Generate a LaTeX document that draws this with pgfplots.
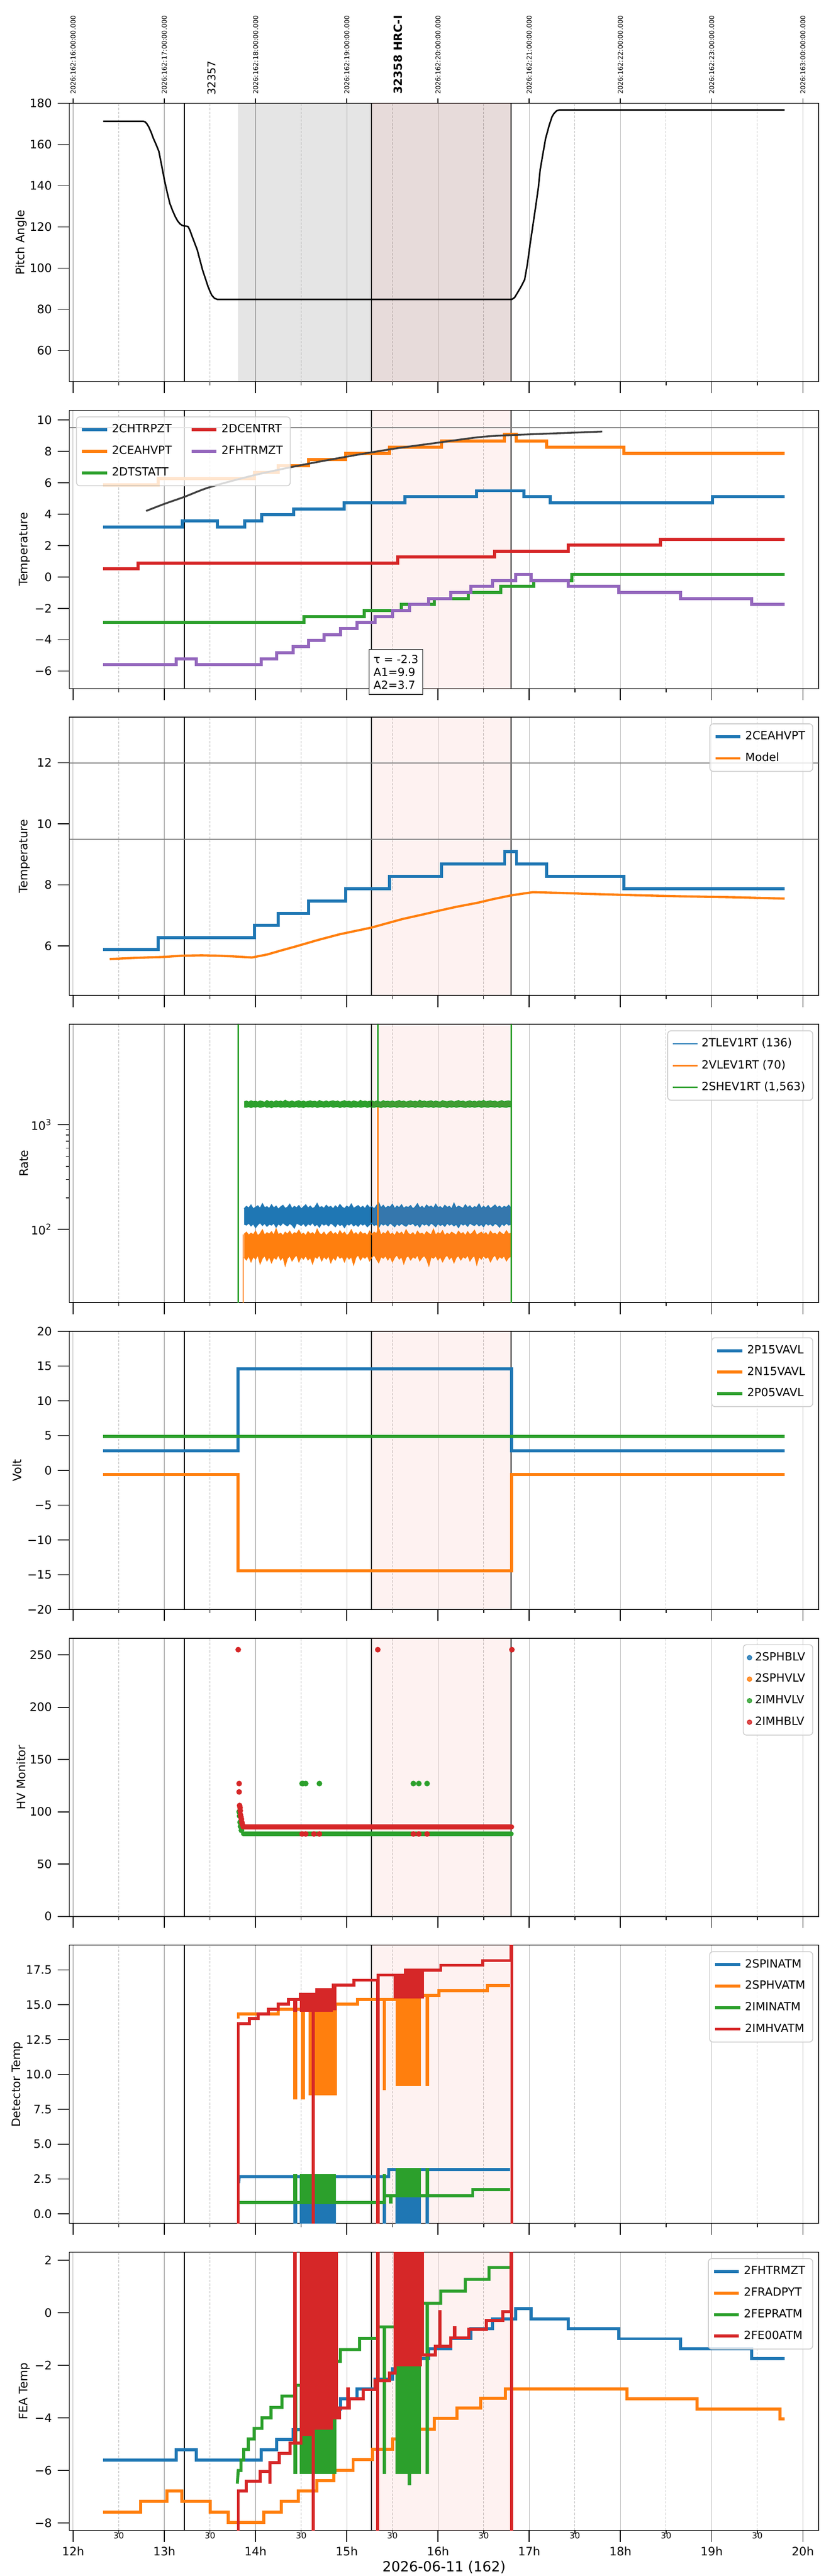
\documentclass[border=0pt]{standalone}
\usepackage{fontspec}
\setmainfont{DejaVu Sans}
\usepackage{pgfplots}
\usepackage{pgfplotstable}
\pgfplotsset{compat=1.18}
\usepgfplotslibrary{fillbetween}

\definecolor{C0}{HTML}{1F77B4}
\definecolor{C1}{HTML}{FF7F0E}
\definecolor{C2}{HTML}{2CA02C}
\definecolor{C3}{HTML}{D62728}
\definecolor{C4}{HTML}{9467BD}
\definecolor{salmon}{HTML}{FA8072}

\newcommand{\myfs}[2]{\fontsize{#1}{#2}\selectfont}

\pgfplotstableread{
x bu bl ou ol gu gl
13.875 158 112 90 54 1660 1480
13.900 166 110 94 51 1690 1470
13.925 160 115 88 56 1650 1495
13.950 171 108 92 49 1700 1460
13.975 157 113 89 55 1665 1490
14.000 163 104 96 52 1680 1475
14.025 168 111 87 57 1655 1500
14.050 159 116 91 47 1695 1465
14.075 176 109 99 53 1670 1485
14.100 161 114 88 56 1645 1505
14.125 165 107 93 50 1710 1470
14.150 158 112 90 55 1660 1490
14.175 172 110 95 48 1685 1455
14.200 160 115 88 54 1650 1495
14.225 167 105 101 52 1700 1480
14.250 156 113 89 57 1665 1500
14.275 164 109 92 51 1690 1470
14.300 170 116 87 55 1655 1485
14.325 159 111 94 45 1720 1475
14.350 163 108 90 53 1670 1495
14.375 174 114 96 56 1660 1465
14.400 158 110 88 50 1695 1490
14.425 166 103 93 54 1650 1480
14.450 161 115 91 57 1680 1500
14.475 169 112 98 49 1705 1470
14.500 157 109 89 55 1660 1485
14.525 164 114 92 52 1690 1460
14.550 172 107 87 56 1655 1495
14.575 160 113 95 51 1675 1480
14.600 167 110 90 54 1700 1490
14.625 158 116 93 47 1665 1475
14.650 163 108 88 55 1685 1500
14.675 177 112 100 53 1650 1465
14.700 161 105 91 57 1710 1485
14.725 165 114 89 50 1670 1495
14.750 159 110 94 55 1660 1470
14.775 170 113 87 52 1695 1490
14.800 162 108 92 56 1655 1480
14.825 166 115 96 48 1680 1505
14.850 157 111 89 54 1700 1470
14.875 168 106 93 51 1665 1485
14.900 160 114 88 57 1690 1495
14.925 173 109 97 53 1650 1460
14.950 163 112 90 55 1675 1490
14.975 158 104 94 49 1705 1475
15.000 167 113 87 56 1660 1500
15.025 161 110 91 52 1685 1480
15.050 175 115 99 55 1655 1465
15.075 159 108 89 46 1695 1490
15.100 164 112 93 54 1670 1475
15.125 169 107 88 57 1650 1495
15.150 160 114 95 51 1715 1470
15.175 166 110 90 55 1665 1485
15.200 158 113 92 53 1690 1500
15.225 171 106 87 56 1660 1465
15.250 162 111 96 50 1680 1490
15.275 165 115 89 54 1700 1480
15.300 157 109 94 57 1655 1470
15.325 168 112 91 52 1690 1495
15.350 180 104 102 48 1670 1485
15.375 161 114 88 55 1650 1460
15.400 170 110 93 53 1705 1490
15.425 159 113 90 56 1665 1475
15.450 166 108 97 51 1685 1500
15.475 163 115 89 55 1660 1470
15.500 174 111 92 49 1695 1485
15.525 158 106 87 54 1655 1495
15.550 167 113 95 57 1680 1465
15.575 161 109 90 52 1710 1490
15.600 172 114 94 55 1665 1480
15.625 159 110 88 47 1690 1475
15.650 165 107 99 54 1650 1500
15.675 162 113 91 56 1675 1470
15.700 169 111 89 51 1700 1485
15.725 157 115 93 55 1660 1495
15.750 164 108 87 53 1685 1465
15.775 176 112 96 57 1655 1490
15.800 160 105 90 50 1720 1480
15.825 166 114 92 54 1670 1470
15.850 158 110 88 56 1690 1500
15.875 171 113 95 52 1660 1485
15.900 163 108 91 45 1680 1475
15.925 167 115 89 55 1700 1495
15.950 159 111 100 53 1655 1465
15.975 174 106 88 56 1690 1490
16.000 161 114 93 51 1665 1480
16.025 165 109 90 55 1650 1470
16.050 158 112 97 49 1705 1500
16.075 170 107 87 54 1675 1485
16.100 162 115 92 57 1660 1460
16.125 166 110 89 52 1685 1490
16.150 157 113 94 55 1695 1475
16.175 178 108 91 48 1655 1495
16.200 160 112 88 54 1680 1470
16.225 167 104 96 56 1710 1485
16.250 163 114 90 51 1665 1500
16.275 159 110 93 55 1690 1480
16.300 172 113 87 53 1650 1465
16.325 161 107 95 57 1675 1490
16.350 168 115 89 50 1700 1475
16.375 158 111 92 54 1660 1495
16.400 165 109 98 56 1685 1470
16.425 162 114 88 46 1655 1485
16.450 175 108 91 55 1695 1500
16.475 159 112 94 52 1670 1465
16.500 166 106 89 56 1715 1490
16.525 160 115 93 53 1660 1480
16.550 169 110 87 55 1680 1470
16.575 158 113 96 49 1700 1495
16.600 164 108 90 54 1665 1485
16.625 171 114 92 57 1690 1475
16.650 161 111 88 51 1650 1500
16.675 167 105 95 55 1675 1465
16.700 159 113 91 53 1705 1490
16.725 166 109 89 56 1660 1480
16.750 162 115 97 50 1685 1470
16.775 170 110 90 54 1695 1495
16.800 160 112 92 55 1670 1485
}\ratetab

\newcommand{\vl}[2]{%
 \addplot[black, line width=0.45pt, forget plot] coordinates {(13.22,#1) (13.22,#2)};
 \addplot[black, line width=0.45pt, forget plot] coordinates {(15.27,#1) (15.27,#2)};
 \addplot[black, line width=0.45pt, forget plot] coordinates {(16.80,#1) (16.80,#2)};}
\newcommand{\pk}[2]{%
 \addplot[draw=none, fill=salmon, fill opacity=0.1, forget plot] coordinates {(15.27,#1) (16.80,#1) (16.80,#2) (15.27,#2)} -- cycle;}

\pgfplotsset{
 base/.style={
  scale only axis, width=450.9pt, height=167.4pt,
  xmin=11.959, xmax=20.174,
  clip mode=individual,
  axis line style={line width=0.5pt},
  tick style={line width=0.5pt, black},
  tick align=outside, tick pos=left,
  major tick length=7pt, minor tick length=2.2pt,
  xtick={12,13,...,20}, xticklabels={},
  xmajorgrids,
  major x grid style={black!28, line width=0.35pt},
  extra x ticks={12.5,13.5,...,19.5}, extra x tick labels={},
  extra x tick style={grid=major, major grid style={black!35, line width=0.35pt, dash pattern=on 1.4pt off 0.9pt}, major tick length=2.2pt},
  ticklabel style={font=\myfs{7}{8}},
  /pgf/number format/assume math mode=true,
  yticklabel={\pgfmathsetmacro\tk{\tick}\ifdim\tk pt<-0.0001pt −\pgfmathsetmacro\tk{-\tk}\fi\pgfmathprintnumber{\tk}},
  ylabel style={font=\myfs{7}{8}, anchor=center},
  legend style={font=\myfs{6.8}{8}, draw=black!20, line width=0.5pt, rounded corners=2pt, fill=white, fill opacity=0.8, text opacity=1, draw opacity=1, at={(0.9925,0.978)}, anchor=north east, inner xsep=2.5pt, inner ysep=2.5pt, row sep=2.4pt, cells={anchor=west}},
  legend cell align=left,
  legend image code/.code={\draw[##1] (0pt,0pt) -- (15pt,0pt);},
 },
}

\begin{document}
\begin{tikzpicture}

%% ---------------- Panel 1: Pitch ----------------
\begin{axis}[base, at={(0pt,0pt)}, anchor=north west,
  ymin=45, ymax=180, ytick={60,80,...,180},
  ylabel={Pitch Angle}, ylabel style={at={(axis description cs:-0.0643,0.5)}}]
\addplot[draw=none, fill=black, fill opacity=0.1, forget plot] coordinates {(13.81,0) (16.80,0) (16.80,300) (13.81,300)} -- cycle;
\pk{0}{300}
\vl{0}{300}
\addplot[black, line width=0.9pt, forget plot] coordinates {(12.33,171.3)(12.77,171.3)(12.79,171.0)(12.81,170.0)(12.83,168.5)(12.855,166)(12.88,163)(12.91,160)(12.94,156.7)(12.97,150)(13.0,143)(13.03,137)(13.06,131.5)(13.09,128)(13.12,125)(13.145,123)(13.17,121.6)(13.195,120.8)(13.22,120.5)(13.245,120.4)(13.26,120.2)(13.28,118.5)(13.30,116)(13.33,112.5)(13.36,109)(13.39,104)(13.42,99)(13.45,95)(13.48,91)(13.50,88.8)(13.52,86.9)(13.55,85.4)(13.58,84.9)(16.81,84.9)(16.84,85.8)(16.87,88)(16.91,91)(16.95,94.5)(16.98,102)(17.01,111.7)(17.04,120.7)(17.07,129.7)(17.10,139)(17.12,147.7)(17.15,155.5)(17.18,163)(17.22,169.5)(17.25,173.5)(17.27,175)(17.30,176.4)(17.33,176.8)(19.80,176.8)};
\pgfplotsinvokeforeach{12,13,14,15,16,17,18,19,20}{\draw[line width=0.5pt] (axis cs:#1,180) -- ([yshift=3pt]axis cs:#1,180);}
\node[rotate=90, anchor=west, inner sep=0pt, font=\myfs{4}{4}] at ([yshift=5.3pt]axis cs:12,180) {2026:162:16:00:00.000};
\node[rotate=90, anchor=west, inner sep=0pt, font=\myfs{4}{4}] at ([yshift=5.3pt]axis cs:13,180) {2026:162:17:00:00.000};
\node[rotate=90, anchor=west, inner sep=0pt, font=\myfs{4}{4}] at ([yshift=5.3pt]axis cs:14,180) {2026:162:18:00:00.000};
\node[rotate=90, anchor=west, inner sep=0pt, font=\myfs{4}{4}] at ([yshift=5.3pt]axis cs:15,180) {2026:162:19:00:00.000};
\node[rotate=90, anchor=west, inner sep=0pt, font=\myfs{4}{4}] at ([yshift=5.3pt]axis cs:16,180) {2026:162:20:00:00.000};
\node[rotate=90, anchor=west, inner sep=0pt, font=\myfs{4}{4}] at ([yshift=5.3pt]axis cs:17,180) {2026:162:21:00:00.000};
\node[rotate=90, anchor=west, inner sep=0pt, font=\myfs{4}{4}] at ([yshift=5.3pt]axis cs:18,180) {2026:162:22:00:00.000};
\node[rotate=90, anchor=west, inner sep=0pt, font=\myfs{4}{4}] at ([yshift=5.3pt]axis cs:19,180) {2026:162:23:00:00.000};
\node[rotate=90, anchor=west, inner sep=0pt, font=\myfs{4}{4}] at ([yshift=5.3pt]axis cs:20,180) {2026:163:00:00:00.000};
\node[rotate=90, anchor=west, inner sep=0pt, font=\myfs{6.5}{7}] at ([yshift=4.8pt]axis cs:13.52,180) {32357};
\node[rotate=90, anchor=west, inner sep=0pt, font=\bfseries\myfs{6.8}{7}] at ([yshift=5.3pt]axis cs:15.56,180) {32358 HRC-I};
\end{axis}

%% ---------------- Panel 2: Temperatures ----------------
\begin{axis}[base, at={(0pt,-184.7pt)}, anchor=north west,
  ymin=-7.11, ymax=10.61, ytick={-6,-4,...,10},
  ylabel={Temperature}, ylabel style={at={(axis description cs:-0.0596,0.5)}},
  legend columns=2,
  legend style={at={(0.0089,0.978)}, anchor=north west, /tikz/every even column/.append style={column sep=9pt}}]
\pk{-20}{20}
\vl{-20}{20}
\addplot[black!50, line width=0.6pt, forget plot] coordinates {(11,9.5) (21,9.5)};
\addplot[const plot, C0, line width=1.85pt, forget plot] coordinates {(12.33,3.18) (13.20,3.56) (13.58,3.18) (13.88,3.56) (14.07,3.95) (14.42,4.33) (14.97,4.72) (15.64,5.10) (16.42,5.49) (16.94,5.10) (17.23,4.72) (19.01,5.10) (19.80,5.10)};
\addplot[const plot, C1, line width=1.85pt, forget plot] coordinates {(12.33,5.88) (12.93,6.27) (13.99,6.67) (14.25,7.07) (14.58,7.47) (14.99,7.87) (15.47,8.27) (16.04,8.67) (16.73,9.07) (16.86,8.67) (17.19,8.27) (18.04,7.87) (19.80,7.87)};
\addplot[const plot, C2, line width=1.85pt, forget plot] coordinates {(12.33,-2.90) (14.53,-2.52) (15.19,-2.14) (15.60,-1.75) (15.96,-1.37) (16.33,-0.99) (16.69,-0.61) (17.05,-0.23) (17.47,0.15) (19.80,0.15)};
\addplot[const plot, C3, line width=1.85pt, forget plot] coordinates {(12.33,0.51) (12.71,0.89) (15.56,1.26) (16.62,1.64) (17.43,2.02) (18.44,2.40) (19.80,2.40)};
\addplot[const plot, C4, line width=1.85pt, forget plot] coordinates {(12.33,-5.60) (13.13,-5.21) (13.35,-5.60) (14.06,-5.21) (14.23,-4.82) (14.41,-4.44) (14.58,-4.05) (14.75,-3.67) (14.93,-3.28) (15.11,-2.90) (15.31,-2.52) (15.50,-2.13) (15.69,-1.75) (15.90,-1.37) (16.14,-0.99) (16.36,-0.61) (16.60,-0.23) (16.85,0.15) (17.02,-0.23) (17.43,-0.61) (17.98,-0.99) (18.66,-1.37) (19.44,-1.75) (19.80,-1.75)};
\addplot[black!75, line width=1.1pt, smooth, forget plot] coordinates {(12.80,4.2) (13.0,4.65) (13.22,5.1) (13.5,5.72) (14.0,6.5) (14.5,7.12) (15.0,7.66) (15.5,8.15) (16.0,8.55) (16.5,8.93) (17.0,9.08) (17.5,9.19) (17.80,9.26)};
\addlegendimage{C0, line width=1.85pt}\addlegendentry{2CHTRPZT}
\addlegendimage{C3, line width=1.85pt}\addlegendentry{2DCENTRT}
\addlegendimage{C1, line width=1.85pt}\addlegendentry{2CEAHVPT}
\addlegendimage{C4, line width=1.85pt}\addlegendentry{2FHTRMZT}
\addlegendimage{C2, line width=1.85pt}\addlegendentry{2DTSTATT}
\node[draw=black, line width=0.4pt, fill=white, align=left, font=\myfs{6.7}{7.8}, inner xsep=2.6pt, inner ysep=3.2pt] at (axis cs:15.54,-6.06) {τ = -2.3\\A1=9.9\\A2=3.7};
\end{axis}

%% ---------------- Panel 3: Model ----------------
\begin{axis}[base, at={(0pt,-369.4pt)}, anchor=north west,
  ymin=4.375, ymax=13.49, ytick={6,8,10,12},
  ylabel={Temperature}, ylabel style={at={(axis description cs:-0.0596,0.5)}}]
\pk{0}{20}
\vl{0}{20}
\addplot[black!50, line width=0.6pt, forget plot] coordinates {(11,12) (21,12)};
\addplot[black!50, line width=0.6pt, forget plot] coordinates {(11,9.5) (21,9.5)};
\addplot[const plot, C0, line width=1.8pt, forget plot] coordinates {(12.33,5.88) (12.93,6.275) (13.99,6.675) (14.25,7.07) (14.58,7.47) (14.99,7.87) (15.47,8.275) (16.04,8.68) (16.73,9.09) (16.86,8.68) (17.19,8.275) (18.04,7.87) (19.80,7.87)};
\addplot[C1, line width=1.35pt, forget plot] coordinates {(12.40,5.57) (12.7,5.61) (13.0,5.64) (13.2,5.68) (13.41,5.69) (13.58,5.68) (13.8,5.65) (13.96,5.62) (14.13,5.72) (14.28,5.85) (14.45,5.99) (14.68,6.19) (14.92,6.38) (15.27,6.60) (15.61,6.88) (15.85,7.04) (16.02,7.16) (16.2,7.28) (16.43,7.41) (16.6,7.53) (16.81,7.66) (17.04,7.76) (17.3,7.74) (17.59,7.71) (18.17,7.66) (18.75,7.62) (19.3,7.59) (19.80,7.55)};
\addlegendimage{C0, line width=1.8pt}\addlegendentry{2CEAHVPT}
\addlegendimage{C1, line width=1.35pt}\addlegendentry{Model}
\end{axis}

%% ---------------- Panel 4: Rate ----------------
\begin{axis}[base, at={(0pt,-554.1pt)}, anchor=north west,
  ymode=log, ymin=20, ymax=9160, ytick={100,1000},
  yticklabels={10\textsuperscript{2},10\textsuperscript{3}},
  ylabel={Rate}, ylabel style={at={(axis description cs:-0.0607,0.5)}}]
\pk{1}{100000}
\vl{1}{100000}
\addplot[C0, line width=0.55pt, name path=rbu, forget plot] table[x=x,y=bu]{\ratetab};
\addplot[C0, line width=0.55pt, name path=rbl, forget plot] table[x=x,y=bl]{\ratetab};
\addplot[C0, forget plot] fill between[of=rbu and rbl];
\addplot[C1, line width=0.55pt, name path=rou, forget plot] table[x=x,y=ou]{\ratetab};
\addplot[C1, line width=0.55pt, name path=rol, forget plot] table[x=x,y=ol]{\ratetab};
\addplot[C1, forget plot] fill between[of=rou and rol];
\addplot[C1, line width=0.75pt, forget plot] coordinates {(13.81,1) (13.81,1500)};
\addplot[C1, line width=0.75pt, forget plot] coordinates {(13.865,1) (13.865,90)};
\addplot[C1, line width=0.75pt, forget plot] coordinates {(15.34,95) (15.34,1500)};
\addplot[C2, line width=0.55pt, name path=rgu, forget plot] table[x=x,y=gu]{\ratetab};
\addplot[C2, line width=0.55pt, name path=rgl, forget plot] table[x=x,y=gl]{\ratetab};
\addplot[C2, forget plot] fill between[of=rgu and rgl];
\addplot[C2, line width=0.85pt, forget plot] coordinates {(13.81,1) (13.81,100000)};
\addplot[C2, line width=0.85pt, forget plot] coordinates {(15.34,1600) (15.34,100000)};
\addplot[C2, line width=0.85pt, forget plot] coordinates {(16.805,1) (16.805,100000)};
\end{axis}
%% legend of panel 4, in an overlay axis of the same size
\begin{axis}[base, at={(0pt,-554.1pt)}, anchor=north west, hide axis, ymin=0, ymax=1]
\addlegendimage{C0, line width=0.9pt}\addlegendentry{2TLEV1RT (136)}
\addlegendimage{C1, line width=0.9pt}\addlegendentry{2VLEV1RT (70)}
\addlegendimage{C2, line width=0.9pt}\addlegendentry{2SHEV1RT (1,563)}
\end{axis}

%% ---------------- Panel 5: Volt ----------------
\begin{axis}[base, at={(0pt,-738.8pt)}, anchor=north west,
  ymin=-20, ymax=20, ytick={-20,-15,...,20},
  ylabel={Volt}, ylabel style={at={(axis description cs:-0.0695,0.5)}}]
\pk{-30}{30}
\vl{-30}{30}
\addplot[C0, line width=1.85pt, forget plot] coordinates {(12.33,2.83) (13.805,2.83) (13.805,14.57) (16.805,14.57) (16.805,2.83) (19.80,2.83)};
\addplot[C1, line width=1.85pt, forget plot] coordinates {(12.33,-0.6) (13.805,-0.6) (13.805,-14.46) (16.805,-14.46) (16.805,-0.6) (19.80,-0.6)};
\addplot[C2, line width=1.85pt, forget plot] coordinates {(12.33,4.86) (19.80,4.86)};
\addlegendimage{C0, line width=1.85pt}\addlegendentry{2P15VAVL}
\addlegendimage{C1, line width=1.85pt}\addlegendentry{2N15VAVL}
\addlegendimage{C2, line width=1.85pt}\addlegendentry{2P05VAVL}
\end{axis}

%% ---------------- Panel 6: HV Monitor ----------------
\begin{axis}[base, at={(0pt,-923.5pt)}, anchor=north west,
  ymin=0, ymax=266, ytick={0,50,...,250},
  ylabel={HV Monitor}, ylabel style={at={(axis description cs:-0.0643,0.5)}},
  legend image code/.code={\draw[#1] plot coordinates {(7pt,0pt)};}]
\pk{-10}{300}
\vl{-10}{300}
\addplot[C2, line width=2.7pt, line cap=round, forget plot] coordinates {(13.865,78.9) (16.805,78.9)};
\addplot[only marks, mark=*, mark size=1.5pt, C2, forget plot] coordinates {(13.82,100)(13.825,96)(13.83,90)(13.835,86)(13.845,82.3)(14.51,127)(14.52,127)(14.55,127)(14.70,127)(15.73,127)(15.79,127)(15.88,127)};
\addplot[C3, line width=3.3pt, line cap=round, forget plot] coordinates {(13.865,85.6) (16.805,85.6)};
\addplot[only marks, mark=*, mark size=1.5pt, C3, forget plot] coordinates {(13.81,255)(15.34,255)(16.81,255)(13.82,127)(13.82,119)(13.825,106)(13.83,104)(13.832,101)(13.835,97)(13.84,95)(13.845,93)(13.85,90)(13.855,88)(14.51,78.8)(14.55,78.8)(14.64,78.8)(14.70,78.8)(15.73,78.8)(15.79,78.8)(15.88,78.8)};
\addlegendimage{only marks, mark=*, mark size=1.3pt, C0}\addlegendentry{2SPHBLV}
\addlegendimage{only marks, mark=*, mark size=1.3pt, C1}\addlegendentry{2SPHVLV}
\addlegendimage{only marks, mark=*, mark size=1.3pt, C2}\addlegendentry{2IMHVLV}
\addlegendimage{only marks, mark=*, mark size=1.3pt, C3}\addlegendentry{2IMHBLV}
\end{axis}

%% ---------------- Panel 7: Detector Temp ----------------
\begin{axis}[base, at={(0pt,-1108.2pt)}, anchor=north west,
  ymin=-0.685, ymax=19.28, ytick={0,2.5,...,17.5},
  yticklabel style={/pgf/number format/.cd, fixed, fixed zerofill, precision=1},
  ylabel={Detector Temp}, ylabel style={at={(axis description cs:-0.0695,0.5)}}]
\pk{-10}{30}
\vl{-10}{30}
\addplot[C0, line width=1.8pt, forget plot] coordinates {(13.815,2.2)(13.82,2.67)(14.43,2.67)(14.43,-3)(14.44,-3)(14.44,2.67)(14.50,2.67)
(14.50,-3)(14.52,-3)(14.52,2.67)(14.54,2.67)(14.54,-3)(14.56,-3)(14.56,2.67)(14.58,2.67)(14.58,-3)(14.60,-3)(14.60,2.67)(14.62,2.67)(14.62,-3)(14.64,-3)(14.64,2.67)(14.66,2.67)(14.66,-3)(14.68,-3)(14.68,2.67)(14.70,2.67)(14.70,-3)(14.72,-3)(14.72,2.67)(14.74,2.67)(14.74,-3)(14.76,-3)(14.76,2.67)(14.78,2.67)(14.78,-3)(14.80,-3)(14.80,2.67)(14.82,2.67)(14.82,-3)(14.84,-3)(14.84,2.67)(14.86,2.67)(14.86,-3)(14.865,-3)(14.865,2.67)
(15.41,2.67)(15.41,-3)(15.415,-3)(15.415,2.67)(15.46,2.67)(15.46,3.18)(15.55,3.18)
(15.55,-3)(15.57,-3)(15.57,3.18)(15.59,3.18)(15.59,-3)(15.61,-3)(15.61,3.18)(15.63,3.18)(15.63,-3)(15.65,-3)(15.65,3.18)(15.67,3.18)(15.67,-3)(15.69,-3)(15.69,3.18)(15.71,3.18)(15.71,-3)(15.73,-3)(15.73,3.18)(15.75,3.18)(15.75,-3)(15.76,-3)(15.76,3.18)
(15.79,3.18)(15.79,-3)(15.795,-3)(15.795,3.18)(15.88,3.18)(15.88,-3)(15.885,-3)(15.885,3.18)(16.79,3.18)};
\addplot[C1, line width=1.8pt, forget plot] coordinates {(13.81,14.0)(13.81,14.34)(14.25,14.34)(14.25,14.68)(14.43,14.68)(14.43,8.3)(14.44,8.3)(14.44,14.68)(14.515,14.68)(14.515,8.3)(14.525,8.3)(14.525,14.68)(14.60,14.68)
(14.60,8.6)(14.62,8.6)(14.62,14.68)(14.64,14.68)(14.64,8.6)(14.66,8.6)(14.66,14.68)(14.68,14.68)(14.68,8.6)(14.70,8.6)(14.70,14.68)(14.72,14.68)(14.72,8.6)(14.74,8.6)(14.74,14.68)(14.76,14.68)(14.76,8.6)(14.78,8.6)(14.78,14.68)(14.80,14.68)(14.80,8.6)(14.82,8.6)(14.82,14.68)(14.84,14.68)(14.84,8.6)(14.86,8.6)(14.86,15.04)(14.87,15.04)(14.87,8.6)(14.875,8.6)(14.875,15.04)
(15.12,15.04)(15.12,15.37)(15.41,15.37)(15.41,8.97)(15.415,8.97)(15.415,15.37)(15.53,15.37)(15.53,15.68)(15.55,15.68)
(15.55,9.27)(15.57,9.27)(15.57,15.68)(15.59,15.68)(15.59,9.27)(15.61,9.27)(15.61,15.68)(15.63,15.68)(15.63,9.27)(15.65,9.27)(15.65,15.68)(15.67,15.68)(15.67,9.27)(15.69,9.27)(15.69,15.68)(15.71,15.68)(15.71,9.27)(15.73,9.27)(15.73,15.68)(15.75,15.68)(15.75,9.27)(15.76,9.27)(15.76,15.68)
(15.79,15.68)(15.79,9.27)(15.795,9.27)(15.795,15.68)(15.88,15.68)(15.88,9.27)(15.885,9.27)(15.885,15.68)(16.01,15.68)(16.01,16.02)(16.54,16.02)(16.54,16.39)(16.79,16.39)};
\addplot[C2, line width=1.8pt, forget plot] coordinates {(13.82,0.80)(14.43,0.80)(14.43,2.74)(14.44,2.74)(14.44,0.80)(14.50,0.80)
(14.50,2.74)(14.52,2.74)(14.52,0.80)(14.54,0.80)(14.54,2.74)(14.56,2.74)(14.56,0.80)(14.58,0.80)(14.58,2.74)(14.60,2.74)(14.60,0.80)(14.62,0.80)(14.62,2.74)(14.64,2.74)(14.64,0.80)(14.66,0.80)(14.66,2.74)(14.68,2.74)(14.68,0.80)(14.70,0.80)(14.70,2.74)(14.72,2.74)(14.72,0.80)(14.74,0.80)(14.74,2.74)(14.76,2.74)(14.76,0.80)(14.78,0.80)(14.78,2.74)(14.80,2.74)(14.80,0.80)(14.82,0.80)(14.82,2.74)(14.84,2.74)(14.84,0.80)(14.86,0.80)(14.86,2.74)(14.865,2.74)(14.865,0.80)
(15.41,0.80)(15.41,2.74)(15.415,2.74)(15.415,1.28)(15.48,1.28)(15.48,0.85)(15.485,0.85)(15.485,1.28)(15.55,1.28)
(15.55,3.2)(15.57,3.2)(15.57,1.28)(15.59,1.28)(15.59,3.2)(15.61,3.2)(15.61,1.28)(15.63,1.28)(15.63,3.2)(15.65,3.2)(15.65,1.28)(15.67,1.28)(15.67,3.2)(15.69,3.2)(15.69,1.28)(15.71,1.28)(15.71,3.2)(15.73,3.2)(15.73,1.28)(15.75,1.28)(15.75,3.2)(15.76,3.2)(15.76,1.28)
(15.79,1.28)(15.79,3.2)(15.795,3.2)(15.795,1.28)(15.88,1.28)(15.88,3.2)(15.885,3.2)(15.885,1.28)(16.38,1.28)(16.38,1.74)(16.79,1.74)};
\addplot[C3, line width=1.8pt, forget plot] coordinates {(13.81,-3)(13.81,13.63)(13.93,13.63)(13.93,14.0)(14.03,14.0)(14.03,14.34)(14.14,14.34)(14.14,14.68)(14.25,14.68)(14.25,15.04)(14.36,15.04)(14.36,15.39)(14.43,15.39)(14.43,14.6)(14.44,14.6)(14.44,15.39)(14.49,15.39)(14.49,15.75)(14.50,15.75)
(14.50,14.6)(14.52,14.6)(14.52,15.75)(14.54,15.75)(14.54,14.6)(14.56,14.6)(14.56,15.75)(14.58,15.75)(14.58,14.6)(14.60,14.6)(14.60,15.75)(14.62,15.75)(14.62,14.6)(14.63,14.6)(14.63,-3)(14.635,-3)(14.635,15.75)(14.65,15.75)(14.65,14.6)(14.67,14.6)(14.67,16.09)(14.69,16.09)(14.69,14.6)(14.71,14.6)(14.71,16.09)(14.73,16.09)(14.73,14.6)(14.75,14.6)(14.75,16.09)(14.77,16.09)(14.77,14.6)(14.79,14.6)(14.79,16.09)(14.81,16.09)(14.81,14.6)(14.83,14.6)(14.83,16.09)(14.85,16.09)(14.85,16.43)(14.86,16.43)(14.86,14.7)(14.87,14.7)(14.87,16.43)
(15.08,16.43)(15.08,16.77)(15.335,16.77)(15.335,-3)(15.345,-3)(15.345,17.14)(15.53,17.14)
(15.53,15.57)(15.55,15.57)(15.55,17.14)(15.57,17.14)(15.57,15.57)(15.59,15.57)(15.59,17.14)(15.61,17.14)(15.61,15.57)(15.63,15.57)(15.63,17.14)(15.64,17.14)(15.64,17.5)(15.65,17.5)(15.65,15.57)(15.67,15.57)(15.67,17.5)(15.69,17.5)(15.69,15.57)(15.71,15.57)(15.71,17.5)(15.73,17.5)(15.73,15.57)(15.75,15.57)(15.75,17.5)(15.77,17.5)(15.77,15.57)(15.79,15.57)(15.79,17.5)(15.81,17.5)(15.81,15.57)(15.83,15.57)(15.83,17.5)
(16.03,17.5)(16.03,17.84)(16.49,17.84)(16.49,18.17)(16.80,18.17)(16.80,25)(16.81,25)(16.81,-3)};
\addlegendimage{C0, line width=1.8pt}\addlegendentry{2SPINATM}
\addlegendimage{C1, line width=1.8pt}\addlegendentry{2SPHVATM}
\addlegendimage{C2, line width=1.8pt}\addlegendentry{2IMINATM}
\addlegendimage{C3, line width=1.8pt}\addlegendentry{2IMHVATM}
\end{axis}

%% ---------------- Panel 8: FEA Temp ----------------
\begin{axis}[base, at={(0pt,-1292.9pt)}, anchor=north west,
  ymin=-8.276, ymax=2.305, ytick={-8,-6,...,2},
  ylabel={FEA Temp}, ylabel style={at={(axis description cs:-0.0596,0.5)}},
  xticklabels={12h,13h,14h,15h,16h,17h,18h,19h,20h},
  xticklabel style={font=\myfs{7}{8}, inner sep=0pt, yshift=-2.6pt},
  extra x tick labels={30,30,30,30,30,30,30,30},
  extra x tick style={every x tick label/.style={font=\myfs{5}{6}, inner sep=0pt, yshift=1.0pt}},
  xlabel={2026-06-11 (162)},
  xlabel style={font=\myfs{8.4}{9}, at={(axis description cs:0.5,0)}, anchor=center, yshift=-22.2pt}]
\pk{-20}{20}
\vl{-20}{20}
\addplot[const plot, C0, line width=1.85pt, forget plot] coordinates {(12.33,-5.60) (13.13,-5.21) (13.35,-5.60) (14.06,-5.21) (14.23,-4.82) (14.41,-4.44) (14.58,-4.05) (14.75,-3.67) (14.93,-3.28) (15.11,-2.90) (15.31,-2.52) (15.50,-2.13) (15.69,-1.75) (15.90,-1.37) (16.14,-0.99) (16.36,-0.61) (16.60,-0.23) (16.85,0.15) (17.02,-0.23) (17.43,-0.61) (17.98,-0.99) (18.66,-1.37) (19.44,-1.75) (19.80,-1.75)};
\addplot[const plot, C1, line width=1.85pt, forget plot] coordinates {(12.33,-7.58) (12.74,-7.18) (13.03,-6.78) (13.19,-7.18) (13.50,-7.58) (13.70,-7.98) (14.09,-7.58) (14.28,-7.18) (14.47,-6.78) (14.67,-6.38) (14.86,-5.99) (15.07,-5.59) (15.28,-5.20) (15.50,-4.81) (15.76,-4.42) (15.96,-4.02) (16.21,-3.62) (16.47,-3.26) (16.74,-2.90) (18.07,-3.28) (18.84,-3.66) (19.75,-4.03) (19.80,-4.03)};
\addplot[C2, line width=1.8pt, forget plot] coordinates {(13.80,-6.5)(13.81,-6.0)(13.84,-6.0)(13.84,-5.6)(13.87,-5.6)(13.87,-5.2)(13.92,-5.2)(13.92,-4.8)(13.985,-4.8)(13.985,-4.4)(14.07,-4.4)(14.07,-4.0)(14.17,-4.0)(14.17,-3.6)(14.29,-3.6)(14.29,-3.17)(14.43,-3.17)(14.43,-6.08)(14.44,-6.08)(14.44,-2.76)(14.50,-2.76)
(14.50,-6.08)(14.52,-6.08)(14.52,-2.76)(14.54,-2.76)(14.54,-6.08)(14.56,-6.08)(14.56,-2.76)(14.58,-2.76)(14.58,-6.08)(14.60,-6.08)(14.60,-2.76)(14.62,-2.76)(14.62,-6.08)(14.64,-6.08)(14.64,-2.3)(14.66,-2.3)(14.66,-6.08)(14.68,-6.08)(14.68,-2.3)(14.70,-2.3)(14.70,-6.08)(14.72,-6.08)(14.72,-2.3)(14.74,-2.3)(14.74,-6.08)(14.76,-6.08)(14.76,-2.3)(14.78,-2.3)(14.78,-6.08)(14.80,-6.08)(14.80,-1.85)(14.82,-1.85)(14.82,-6.08)(14.84,-6.08)(14.84,-1.85)(14.86,-1.85)(14.86,-6.08)(14.87,-6.08)(14.87,-1.85)
(14.93,-1.85)(14.93,-1.40)(15.14,-1.40)(15.14,-0.98)(15.34,-0.98)(15.34,-0.54)(15.41,-0.54)(15.41,-6.08)(15.415,-6.08)(15.415,-0.54)(15.55,-0.54)
(15.55,-6.08)(15.57,-6.08)(15.57,-0.54)(15.59,-0.54)(15.59,-6.08)(15.61,-6.08)(15.61,-0.1)(15.63,-0.1)(15.63,-6.08)(15.65,-6.08)(15.65,-0.1)(15.67,-0.1)(15.67,-6.08)(15.685,-6.08)(15.685,-6.5)(15.69,-6.5)(15.69,-0.1)(15.71,-0.1)(15.71,-6.08)(15.73,-6.08)(15.73,-0.1)(15.75,-0.1)(15.75,-6.08)(15.76,-6.08)(15.76,0.36)
(15.79,0.36)(15.79,-6.08)(15.795,-6.08)(15.795,0.36)(15.88,0.36)(15.88,-6.08)(15.885,-6.08)(15.885,0.36)(16.03,0.36)(16.03,0.82)(16.30,0.82)(16.30,1.27)(16.56,1.27)(16.56,1.72)(16.79,1.72)};
\addplot[C3, line width=1.8pt, forget plot] coordinates {(13.81,-9)(13.81,-6.78)(13.90,-6.78)(13.90,-6.4)(14.05,-6.4)(14.05,-6.04)(14.155,-6.04)(14.155,-6.45)(14.16,-6.45)(14.16,-5.70)(14.26,-5.70)(14.26,-5.35)(14.38,-5.35)(14.38,-4.95)(14.43,-4.95)(14.43,3)(14.435,3)(14.435,-4.95)(14.50,-4.95)
(14.50,3)(14.52,3)(14.52,-4.63)(14.54,-4.63)(14.54,3)(14.56,3)(14.56,-4.63)(14.58,-4.63)(14.58,3)(14.60,3)(14.60,-4.63)(14.62,-4.63)(14.62,3)(14.63,3)(14.63,-9)(14.635,-9)(14.635,3)(14.65,3)(14.65,-4.4)(14.67,-4.4)(14.67,3)(14.69,3)(14.69,-4.4)(14.71,-4.4)(14.71,3)(14.73,3)(14.73,-4.4)(14.75,-4.4)(14.75,3)(14.77,3)(14.77,-4.4)(14.79,-4.4)(14.79,3)(14.81,3)(14.81,-4.4)(14.83,-4.4)(14.83,3)(14.85,3)(14.85,-4.0)(14.87,-4.0)(14.87,3)(14.885,3)(14.885,-4.0)
(14.92,-4.0)(14.92,-3.62)(15.01,-3.62)(15.01,-2.9)(15.015,-2.9)(15.015,-3.62)(15.03,-3.62)(15.03,-3.28)(15.18,-3.28)(15.18,-2.93)(15.31,-2.93)(15.31,-2.58)(15.335,-2.58)(15.335,-9)(15.34,-9)(15.34,3)(15.345,3)(15.345,-2.58)(15.47,-2.58)(15.47,-2.29)(15.53,-2.29)
(15.53,3)(15.55,3)(15.55,-1.98)(15.57,-1.98)(15.57,3)(15.59,3)(15.59,-1.98)(15.61,-1.98)(15.61,3)(15.63,3)(15.63,-1.98)(15.65,-1.98)(15.65,3)(15.67,3)(15.67,-1.98)(15.69,-1.98)(15.69,3)(15.71,3)(15.71,-1.98)(15.73,-1.98)(15.73,3)(15.75,3)(15.75,-1.98)(15.77,-1.98)(15.77,3)(15.79,3)(15.79,-1.98)(15.81,-1.98)(15.81,3)(15.83,3)(15.83,-1.61)
(15.97,-1.61)(15.97,-1.27)(16.02,-1.27)(16.02,0.05)(16.025,0.05)(16.025,-1.27)(16.14,-1.27)(16.14,-0.95)(16.18,-0.95)(16.18,-0.56)(16.185,-0.56)(16.185,-0.95)(16.34,-0.95)(16.34,-0.63)(16.53,-0.63)(16.53,-0.29)(16.71,-0.29)(16.71,0.04)(16.80,0.04)(16.80,3)(16.805,3)(16.805,-9)};
\addlegendimage{C0, line width=1.85pt}\addlegendentry{2FHTRMZT}
\addlegendimage{C1, line width=1.85pt}\addlegendentry{2FRADPYT}
\addlegendimage{C2, line width=1.85pt}\addlegendentry{2FEPRATM}
\addlegendimage{C3, line width=1.85pt}\addlegendentry{2FE00ATM}
\end{axis}

\pgfresetboundingbox
\path[use as bounding box] (-41.75pt,62.2pt) rectangle (458.25pt,-1487.8pt);
\end{tikzpicture}
\end{document}
